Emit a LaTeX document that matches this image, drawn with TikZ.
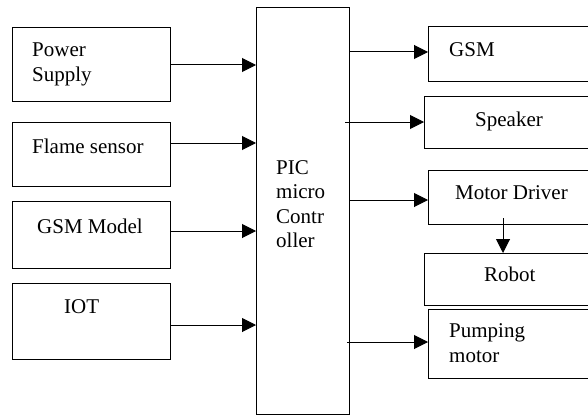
\documentclass[tikz,border=0pt]{standalone}
\usepackage{fontspec}
\setmainfont{Liberation Serif}
\usetikzlibrary{arrows.meta}
\begin{document}
\begin{tikzpicture}[x=1pt,y=-1pt,
  box/.style={draw,line width=1pt,inner sep=0pt,outer sep=0pt,anchor=north west},
  lbl/.style={anchor=base west,inner sep=0pt,font=\fontsize{21}{24.5}\selectfont},
  arr/.style={line width=1pt,-{Triangle[length=14pt,width=14pt]}}]
\useasboundingbox (0,0) rectangle (588,417);
\clip (0,0) rectangle (588,417);
% left boxes
\node[box,minimum width=158pt,minimum height=74pt] (ps) at (12,28) {};
\node[box,minimum width=158pt,minimum height=64pt] (fs) at (12,122) {};
\node[box,minimum width=158pt,minimum height=67pt] (gm) at (12,201) {};
\node[box,minimum width=158pt,minimum height=76pt] (iot) at (12,283) {};
\node[lbl] (t1) at (32,57) {Power};
\node[lbl] (t2) at (32,82) {Supply};
\node[lbl] (t3) at (32,153) {Flame sensor};
\node[lbl] (t4) at (37,233) {GSM Model};
\node[lbl] (t5) at (64,313) {IOT};
% PIC
\node[box,minimum width=93pt,minimum height=406pt] (pic) at (256,8) {};
\node[lbl] (p1) at (276,174) {PIC};
\node[lbl] (p2) at (276,198) {micro};
\node[lbl] (p3) at (276,223) {Contr};
\node[lbl] (p4) at (276,247) {oller};
% right boxes
\node[box,minimum width=180pt,minimum height=55pt] (gsm) at (428,27) {};
\node[box,minimum width=184pt,minimum height=51pt] (spk) at (424,97) {};
\node[box,minimum width=180pt,minimum height=54pt] (md) at (428,170) {};
\node[box,minimum width=184pt,minimum height=52pt] (rob) at (424,253) {};
\node[box,minimum width=180pt,minimum height=69pt] (pm) at (428,309) {};
\node[lbl] (r1) at (449,57) {GSM};
\node[lbl] (r2) at (475,126) {Speaker};
\node[lbl] (r3) at (455,199) {Motor Driver};
\node[lbl] (r4) at (484,281) {Robot};
\node[lbl] (r5) at (449,337) {Pumping};
\node[lbl] (r6) at (449,362) {motor};
% input arrows
\draw[arr] (ps.east |- 0,65) -- (pic.west |- 0,65);
\draw[arr] (fs.east |- 0,143) -- (pic.west |- 0,143);
\draw[arr] (gm.east |- 0,231) -- (pic.west |- 0,231);
\draw[arr] (iot.east |- 0,325) -- (pic.west |- 0,325);
% output arrows
\draw[arr] (pic.east |- 0,52) -- (gsm.west |- 0,52);
\draw[arr] ([xshift=-4pt]pic.east |- 0,122) -- (spk.west |- 0,122);
\draw[arr] (pic.east |- 0,200) -- (md.west |- 0,200);
\draw[arr] ([xshift=-2pt]pic.east |- 0,342) -- (pm.west |- 0,342);
\draw[arr] ([yshift=6pt]md.south -| 503,0) -- (rob.north -| 503,0);
\end{tikzpicture}
\end{document}
